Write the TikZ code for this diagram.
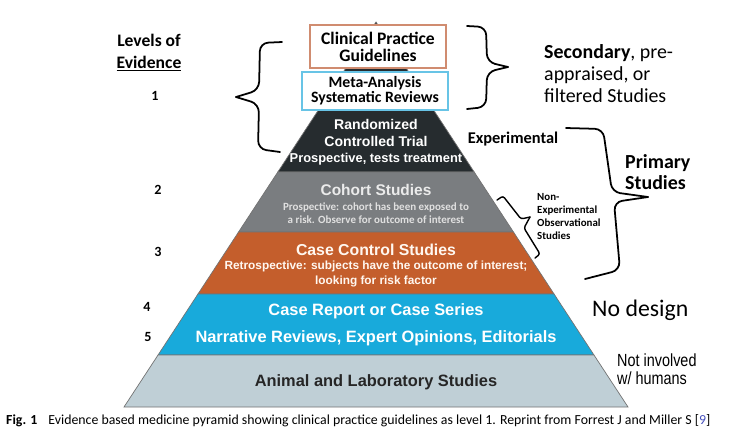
\documentclass[tikz,border=0pt]{standalone}
\usepackage{xcolor}
\usepackage{fontspec}
\setmainfont{Carlito}
\newfontfamily\arialfont{Liberation Sans}
\newfontfamily\narrowfont[FakeStretch=0.82]{Liberation Sans}
\usetikzlibrary{calc}

\definecolor{rctdark}{RGB}{38,44,47}
\definecolor{cohortgray}{RGB}{122,125,128}
\definecolor{caseorange}{RGB}{196,94,44}
\definecolor{reportblue}{RGB}{24,170,219}
\definecolor{animalgray}{RGB}{191,207,214}
\definecolor{cpgborder}{RGB}{208,140,112}
\definecolor{metaborder}{RGB}{104,196,230}
\definecolor{citeblue}{RGB}{70,80,190}

\tikzset{
    layertext/.style={font=\arialfont\bfseries, text=white, align=center, inner sep=0pt},
    sidetext/.style={font=\bfseries, align=left, inner sep=0pt},
    topbox/.style={draw, line width=0.9pt, fill=white, align=center, inner sep=0pt},
    bracket/.style={line width=1.5pt, rounded corners=7pt, line cap=round}
}

\begin{document}
\begin{tikzpicture}[x=0.03cm, y=-0.03cm]
    \useasboundingbox (0,0) rectangle (739,435);

    % pyramid
    \coordinate (apex) at (376,22);
    \coordinate (bl) at (124,407);
    \coordinate (br) at (628,407);
    \foreach \ya/\yb/\col [evaluate=\ya as \ta using (\ya-22)/385,
                           evaluate=\yb as \tb using (\yb-22)/385] in
        {22/172/rctdark, 172/232/cohortgray, 232/294/caseorange,
         294/355/reportblue, 355/407/animalgray} {
        \filldraw[fill=\col, draw=black!55, line width=0.6pt]
            ($(apex)!\ta!(bl)$) -- ($(apex)!\tb!(bl)$)
            -- ($(apex)!\tb!(br)$) -- ($(apex)!\ta!(br)$) -- cycle;
    }

    % boxes on top
    \node[topbox, draw=cpgborder, minimum width=4.08cm, minimum height=1.29cm,
          font=\bfseries\fontsize{15}{14.5}\selectfont] (cpg) at (378,46.5)
        {Clinical Practice\\Guidelines};
    \node[topbox, draw=metaborder, minimum width=4.38cm, minimum height=1.14cm,
          font=\bfseries\fontsize{13.5}{13}\selectfont] (meta) at (375,91)
        {Meta-Analysis\\Systematic Reviews};

    % layer texts
    \node[layertext, font=\arialfont\bfseries\fontsize{12}{14.5}\selectfont] (rcttitle) at (376,132.5) {Randomized\\Controlled Trial};
    \node[layertext, font=\arialfont\bfseries\fontsize{11}{12}\selectfont] (rctsub) at (376,159) {Prospective, tests treatment};
    \node[layertext, font=\arialfont\bfseries\fontsize{13.2}{14}\selectfont, text=black!8] (cohorttitle) at (376,190) {Cohort Studies};
    \node[layertext, font=\bfseries\fontsize{9.4}{11.1}\selectfont, text=black!12] (cohortsub) at (376,213.5) {Prospective: cohort has been exposed to\\a risk. Observe for outcome of interest};
    \node[layertext, font=\arialfont\bfseries\fontsize{13.5}{14}\selectfont, text=orange!6] (casetitle) at (376,250) {Case Control Studies};
    \node[layertext, font=\arialfont\bfseries\fontsize{10.1}{12.8}\selectfont, text=orange!6] (casesub) at (376,274) {Retrospective: subjects have the outcome of interest;\\looking for risk factor};
    \node[layertext, font=\arialfont\bfseries\fontsize{14}{16}\selectfont] (report) at (376,311) {Case Report or Case Series};
    \node[layertext, font=\arialfont\bfseries\fontsize{14}{16}\selectfont] (narrative) at (376,338) {Narrative Reviews, Expert Opinions, Editorials};
    \node[layertext, font=\arialfont\bfseries\fontsize{14}{16}\selectfont, text=black!85] (animal) at (376,382) {Animal and Laboratory Studies};

    % levels of evidence
    \node[sidetext, align=center, font=\bfseries\fontsize{15}{18.8}\selectfont] (levels) at (149,53) {Levels of\\\underline{Evidence}};
    \foreach \lvl/\px/\py in {1/155/96, 2/158/190, 3/158/252, 4/147/307, 5/148/337} {
        \node[sidetext, font=\bfseries\fontsize{12}{12}\selectfont] (lvl\lvl) at (\px,\py) {\lvl};
    }

    % braces
    \draw[bracket] (282,42) -- (260,43) -- (259,90) -- (236,97);
    \draw[bracket] (236,97) -- (259,104) -- (258,149) -- (280,152);
    \draw[bracket] (467,26) -- (486,27) -- (487,62) -- (508,67);
    \draw[bracket] (508,67) -- (487,72) -- (486,107) -- (467,109);
    \draw[bracket] (566,128) -- (603,129) -- (612,192) -- (648,197);
    \draw[bracket] (648,197) -- (614,202) -- (620,270) -- (585,279);
    \draw[bracket, line width=1.2pt, rounded corners=2pt] (497,200) -- (503,196) -- (521,219) -- (530,217);
    \draw[bracket, line width=1.2pt, rounded corners=2pt] (530,217) -- (524,228) -- (540,254) -- (535,258);

    % right side labels
    \node[sidetext, anchor=west, font=\fontsize{17}{18.8}\selectfont] (secondary) at (544,74) {\textbf{Secondary}, pre-\\appraised, or\\filtered Studies};
    \node[sidetext, font=\bfseries\fontsize{14}{14}\selectfont] (experimental) at (513,139) {Experimental};
    \node[sidetext, anchor=west, font=\bfseries\fontsize{17}{18}\selectfont] (primary) at (625,172.5) {Primary\\Studies};
    \node[sidetext, anchor=west, font=\bfseries\fontsize{9.3}{11}\selectfont] (nonexp) at (537,216.5) {Non-\\Experimental\\Observational\\Studies};
    \node[sidetext, anchor=west, font=\fontsize{20.3}{22}\selectfont] (nodesign) at (592,310) {No design};
    \node[sidetext, anchor=west, font=\narrowfont\fontsize{15}{15.4}\selectfont] (nothuman) at (617,369) {Not involved\\w/ humans};

    % caption
    \node[anchor=west, inner sep=0pt, font=\fontsize{11.8}{13}\selectfont] (caption) at (6,421)
        {\textbf{Fig. 1}\hspace{0.8em}Evidence based medicine pyramid showing clinical practice guidelines as level 1. Reprint from Forrest J and Miller S [{\color{citeblue}9}]};
\end{tikzpicture}
\end{document}
